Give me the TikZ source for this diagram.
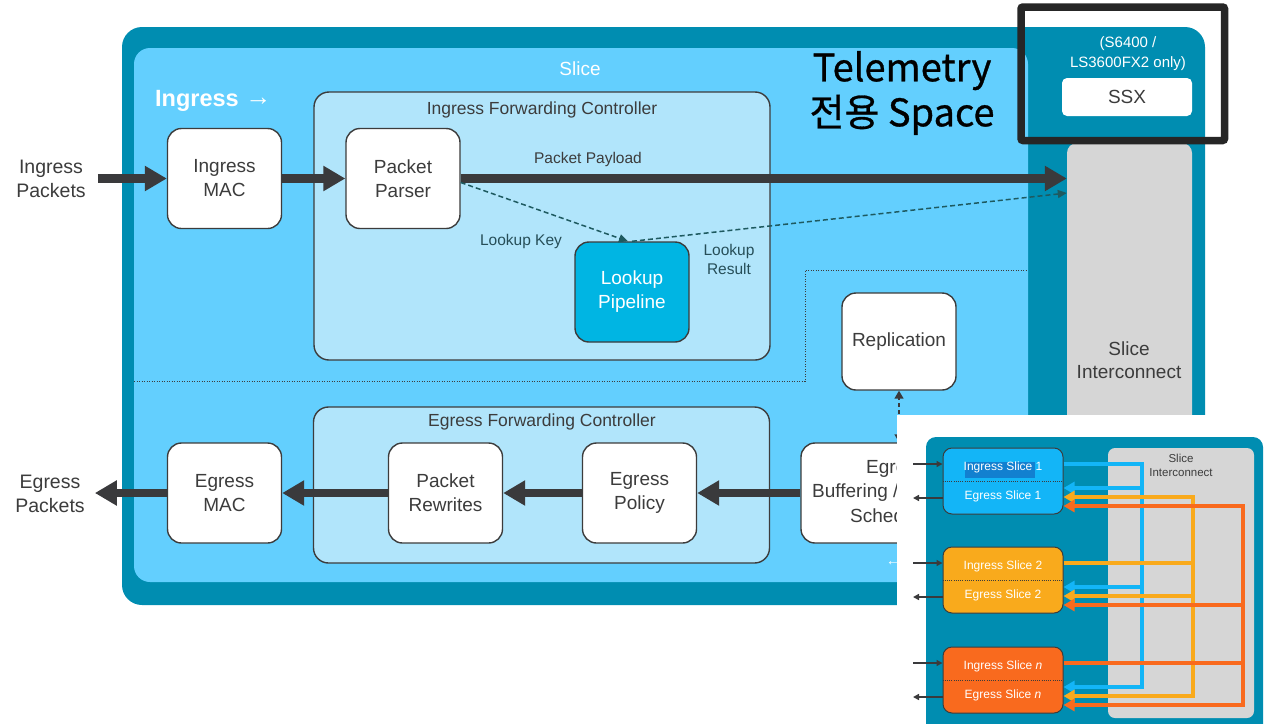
\documentclass[tikz,border=0pt]{standalone}
\usepackage{fontspec}
\setmainfont{Liberation Sans}
\newfontfamily\krfont{Noto Sans CJK KR}[FakeBold=0.8]
\usetikzlibrary{arrows.meta,positioning}
\definecolor{slicedark}{RGB}{0,141,177}
\definecolor{slicelight}{RGB}{99,207,254}
\definecolor{ctrlfill}{RGB}{177,229,251}
\definecolor{lookfill}{RGB}{0,181,227}
\definecolor{txtgray}{RGB}{60,60,60}
\definecolor{arrgray}{RGB}{58,58,60}
\definecolor{icgray}{RGB}{214,214,214}
\definecolor{dashteal}{RGB}{30,90,96}
\definecolor{keyteal}{RGB}{38,78,88}
\definecolor{sliceblue}{RGB}{19,181,247}
\definecolor{sliceorange}{RGB}{249,170,28}
\definecolor{slicered}{RGB}{249,106,30}
\definecolor{selblue}{RGB}{18,128,208}

\begin{document}
\begin{tikzpicture}[x=1pt,y=-1pt,
	txt/.style={text=txtgray,align=center,inner sep=0pt},
	blk/.style={draw=txtgray,line width=1.4pt,fill=white,rounded corners=14pt,minimum width=114pt,minimum height=100pt,inner sep=0pt,align=center,text=txtgray,font=\fontsize{19}{24}\selectfont},
	ctrl/.style={draw=txtgray,line width=1.4pt,fill=ctrlfill,rounded corners=15pt,minimum width=456pt,inner sep=0pt},
	fat/.style={draw=arrgray,line width=8.5pt,-{Triangle[length=22pt,width=24pt]}},
	dashlnk/.style={draw=dashteal,line width=1.5pt,dash pattern=on 5pt off 3pt,-{Triangle[length=9pt,width=8pt]}},
	lnk/.style={line width=4pt,-{Triangle[length=11pt,width=12pt]}},
	slc/.style={draw=txtgray,line width=1pt,rounded corners=9pt,minimum width=120pt,minimum height=66pt,inner sep=0pt},
	stxt/.style={text=white,font=\fontsize{12}{14}\selectfont,inner sep=0pt},
	inarr/.style={draw=arrgray,line width=1.5pt,-{Triangle[length=6pt,width=6pt]}}]
	\fill[white] (0,0) rectangle (1273,723);
	\useasboundingbox (0,0) rectangle (1273,723);
	\fill[slicedark,rounded corners=20pt] (122,27) rectangle (1205,605);
	\fill[slicelight,rounded corners=16pt] (134,48) rectangle (1028,582);
	\node[fill=icgray,rounded corners=10pt,minimum width=125pt,minimum height=447pt,inner sep=0pt] (ic) at (1129.5,366.5) {};
	\node[txt,font=\fontsize{19}{23}\selectfont] (icl) at (1129,360) {Slice\\Interconnect};
	\node[txt,text=white,font=\fontsize{15}{20}\selectfont] (only) at (1128,54) {(S6400 /\\LS3600FX2 only)};
	\node[txt,fill=white,rounded corners=5pt,minimum width=130pt,minimum height=38pt,font=\fontsize{19}{23}\selectfont] (ssx) at (1127,97) {SSX};
	\draw[line width=7.5pt,draw=black!85,rounded corners=2pt] (1021,7) rectangle (1224.5,140.5);
	\node[font=\krfont\fontsize{38}{45}\selectfont,align=center,inner sep=0pt] (tel) at (902,93) {Telemetry\\전용 Space};
	\node[txt,text=white,font=\fontsize{19}{23}\selectfont] (slt) at (580,69) {Slice};
	\node[anchor=west,text=white,font=\bfseries\fontsize{23.5}{27}\selectfont,inner sep=0pt] (ing) at (155,101) {Ingress {\mdseries\fontsize{26}{27}\selectfont\raisebox{1pt}{→}}};

	\node[ctrl,minimum height=268pt] (ifc) at (542,226) {};
	\node[txt,font=\fontsize{17.5}{21}\selectfont] (ifct) at (542,110) {Ingress Forwarding Controller};
	\node[ctrl,minimum height=156pt] (efc) at (541.5,485) {};
	\node[txt,font=\fontsize{17.5}{21}\selectfont] (efct) at (542,422) {Egress Forwarding Controller};
	\draw[txtgray,line width=1pt,dash pattern=on 1pt off 1.5pt] (134,381) -- (805,381) -- (805,270) -- (1028,270);

	\node[blk] (imac) at (224.5,178.5) {Ingress\\MAC};
	\node[blk] (pp) at (403,178.5) {Packet\\Parser};
	\node[blk,fill=lookfill,text=white] (lp) at (632,292) {Lookup\\Pipeline};
	\node[blk,minimum height=97pt] (rep) at (899,341.5) {Replication};
	\node[blk] (emac) at (224.5,493) {Egress\\MAC};
	\node[blk] (pr) at (445.5,493) {Packet\\Rewrites};
	\node[blk] (ep) at (639.5,493) {Egress\\Policy};
	\node[blk,minimum width=190pt] (buf) at (896,493) {};
	\node[txt,anchor=west,font=\fontsize{19}{24}\selectfont] (buf1) at (866,469) {Egress};
	\node[txt,anchor=west,font=\fontsize{19}{24}\selectfont] (buf2) at (812,493) {Buffering /};
	\node[txt,anchor=west,font=\fontsize{19}{24}\selectfont] (buf3) at (850,516) {Scheduler};

	\node[txt,font=\fontsize{19.5}{24}\selectfont] (inpk) at (51,179) {Ingress\\Packets};
	\node[txt,font=\fontsize{19.5}{24}\selectfont] (egpk) at (50,494) {Egress\\Packets};
	\coordinate (icpay) at (ic.west |- pp);
	\coordinate (icres) at ([yshift=-14.5pt]icpay);
	\draw[fat] ([xshift=12pt]inpk.east |- imac.west) -- (imac.west);
	\draw[fat] (imac) -- (pp);
	\draw[fat] (pp) -- (icpay);
	\node[txt,font=\fontsize{15.5}{19}\selectfont] (pay) at (588,159) {Packet Payload};
	\draw[dashlnk] ([yshift=-4pt]pp.east) -- ([xshift=-4pt]lp.north);
	\draw[dashlnk] (lp.north) -- (icres);
	\node[txt,text=keyteal,font=\fontsize{15.5}{19}\selectfont] (lk) at (521,241) {Lookup Key};
	\node[txt,text=keyteal,font=\fontsize{15.5}{19}\selectfont] (lr) at (729,259.5) {Lookup\\Result};
	\draw[fat] (buf) -- (ep);
	\draw[fat] (ep) -- (pr);
	\draw[fat] (pr) -- (emac);
	\draw[fat] (emac.west) -- ([xshift=10pt]egpk.east |- emac.west);
	\draw[draw=arrgray,line width=1.5pt,dash pattern=on 4pt off 3pt,{Triangle[length=8pt,width=9pt]}-{Triangle[length=8pt,width=9pt]}] (rep.south |- buf.north) -- (rep.south);
	\node[text=white,font=\fontsize{14}{16}\selectfont,inner sep=0pt] (egl) at (893,564) {←};

	\begin{scope}
		\clip (0,0) rectangle (1273,723);
		\fill[white] (897,415) rectangle (1273,723);
		\fill[slicedark,rounded corners=10pt] (926,437) rectangle (1263,735);
		\fill[icgray,rounded corners=7pt] (1108,448) rectangle (1254,718);
	\end{scope}
	\node[txt,font=\fontsize{11.5}{14}\selectfont] (icl2) at (1181,465) {Slice\\Interconnect};
	\foreach \i/\col/\yc in {1/sliceblue/481,2/sliceorange/580,3/slicered/680}{
		\node[slc,fill=\col] (s\i) at (1003,\yc) {};
		\draw[txtgray,line width=0.8pt,dash pattern=on 1pt off 1.2pt] (s\i.west) -- (s\i.east);
		\coordinate (a\i) at (913,\yc-17);
		\coordinate (b\i) at (913,\yc+17);
		\draw[inarr] (a\i) -- (s\i.west |- a\i);
		\draw[inarr] (s\i.west |- b\i) -- (b\i);
	}
	\foreach \i/\col/\xv/\o/\yin in {1/sliceblue/1142/-9/464,2/sliceorange/1193/0/563,3/slicered/1243/9/663}{
		\pgfmathsetmacro\ytop{min(\yin,497+\o)}
		\draw[draw=\col,line width=4pt] (s\i.east |- 0,\yin) -- (\xv,\yin);
		\draw[draw=\col,line width=4pt,line cap=rect] (\xv,\ytop) -- (\xv,696+\o);
		\foreach \j/\yj in {1/481,2/580,3/680}
			\draw[lnk,draw=\col] (\xv,\yj+16+\o) -- (s\j.east |- 0,\yj+16+\o);
	}
	\fill[selblue] (965,462) rectangle (1035,478);
	\foreach \i/\yc/\lab in {1/481/1,2/580/2,3/680/{\textit{n}}}{
		\node[stxt] (in\i) at (1003,\yc-14) {Ingress Slice \lab};
		\node[stxt] (eg\i) at (1003,\yc+15) {Egress Slice \lab};
	}
\end{tikzpicture}
\end{document}
